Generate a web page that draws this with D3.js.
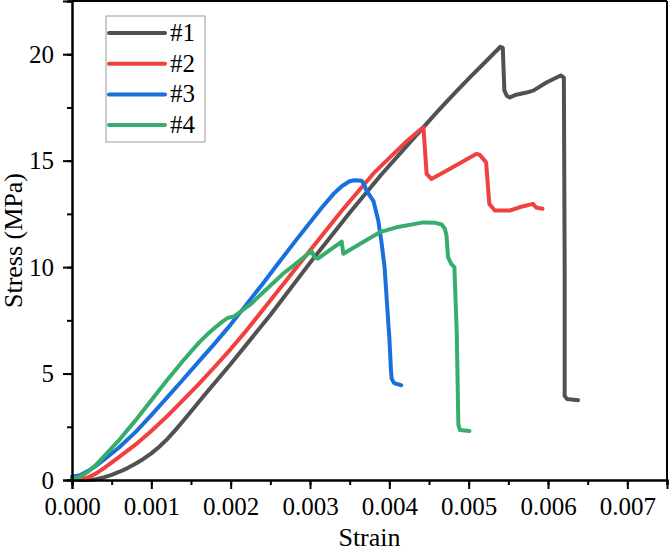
<!DOCTYPE html>
<html><head><meta charset="utf-8">
<script src="https://cdn.jsdelivr.net/npm/d3@7"></script>
<style>body{margin:0;background:#fff}svg{display:block}</style>
</head><body><svg id="chart" width="669" height="551"></svg>
<script>
const seriesNames = ["#1", "#2", "#3", "#4"];
const seriesColors = ["#515151", "#F14040", "#1A6FDF", "#37AD6B"];
const xTicks = [0, 0.001, 0.002, 0.003, 0.004, 0.005, 0.006, 0.007];
const yTicks = [0, 5, 10, 15, 20];
// [strain, stress (MPa)]
const s1 = [[0,0],[0.0002,0.0],[0.0003,0.04],[0.0004,0.12],[0.0005,0.24],[0.0006,0.39],[0.0007,0.56],[0.0008,0.76],[0.0009,0.99],[0.001,1.25],[0.0011,1.56],[0.0012,1.92],[0.0013,2.33],[0.0014,2.77],[0.0015,3.22],[0.00166,3.95],[0.002,5.45],[0.0025,7.75],[0.003,10.2],[0.0035,12.55],[0.0039,14.35],[0.0044,16.45],[0.0046,17.28],[0.0048,18.08],[0.005,18.85],[0.0052,19.6],[0.0054,20.35],[0.00543,20.3],[0.00545,18.3],[0.00548,18.05],[0.00552,17.97],[0.0056,18.1],[0.00573,18.2],[0.00582,18.3],[0.00598,18.67],[0.00616,19.0],[0.0062,18.9],[0.00621,10],[0.00621,3.95],[0.00624,3.8],[0.00638,3.75]];
const s2 = [[0,0],[0.0001,0.02],[0.0002,0.12],[0.0003,0.3],[0.0004,0.55],[0.0006,1.1],[0.0008,1.66],[0.001,2.3],[0.0012,3.0],[0.0014,3.75],[0.0016,4.52],[0.0018,5.32],[0.002,6.15],[0.0022,7.03],[0.0026,8.9],[0.003,10.78],[0.0034,12.65],[0.0038,14.4],[0.0042,15.85],[0.0044,16.49],[0.00443,16.55],[0.00447,14.38],[0.00453,14.14],[0.00472,14.53],[0.0051,15.32],[0.00514,15.27],[0.00522,14.92],[0.00526,12.97],[0.00533,12.66],[0.00552,12.66],[0.00564,12.81],[0.00581,12.97],[0.00585,12.8],[0.00593,12.74]];
const s3 = [[0,0.15],[0.0001,0.22],[0.0002,0.42],[0.0003,0.66],[0.0004,0.94],[0.0006,1.55],[0.0008,2.25],[0.001,3.05],[0.0012,3.88],[0.0014,4.72],[0.0016,5.57],[0.0018,6.42],[0.002,7.3],[0.0022,8.25],[0.0024,9.2],[0.0026,10.18],[0.0028,11.15],[0.003,12.1],[0.00315,12.8],[0.0033,13.45],[0.0034,13.8],[0.0035,14.03],[0.00356,14.08],[0.00365,14.06],[0.00368,13.9],[0.00371,13.6],[0.0038,13.1],[0.00386,12.2],[0.0039,11.2],[0.00394,10.0],[0.00399,7.2],[0.004,6.7],[0.00402,5.2],[0.00403,4.75],[0.00406,4.55],[0.00415,4.45]];
const s4 = [[0,0.05],[0.0001,0.15],[0.0002,0.38],[0.0003,0.7],[0.0004,1.1],[0.0006,1.9],[0.0008,2.8],[0.001,3.75],[0.0012,4.7],[0.0014,5.6],[0.0016,6.45],[0.0017,6.82],[0.0018,7.15],[0.0019,7.45],[0.00196,7.6],[0.002,7.65],[0.00204,7.68],[0.00225,8.25],[0.00266,9.69],[0.00302,10.75],[0.00306,10.45],[0.0031,10.4],[0.0034,11.2],[0.00342,10.63],[0.00388,11.64],[0.00409,11.87],[0.00443,12.1],[0.00458,12.08],[0.00466,12.0],[0.0047,11.8],[0.00472,11.5],[0.00474,10.47],[0.00478,10.15],[0.00482,10.0],[0.00485,6.88],[0.00487,2.6],[0.00489,2.35],[0.00501,2.3]];
const allSeries = [s1, s2, s3, s4];

const svg = d3.select("#chart");
const L = 72, R = 667, T = 1, B = 480;
const x = d3.scaleLinear().domain([0, 0.0075]).range([L, R]);
const y = d3.scaleLinear().domain([0, 22.5]).range([B, T]);
const font = "Liberation Serif, Tinos, Times New Roman, Times, DejaVu Serif, serif";

// frame
svg.append("line").attr("x1", L).attr("x2", R).attr("y1", T).attr("y2", T).attr("stroke", "#000").attr("stroke-width", 2);
svg.append("line").attr("x1", R).attr("x2", R).attr("y1", T).attr("y2", B).attr("stroke", "#000").attr("stroke-width", 2);

// lines
const line = d3.line().x(d => x(d[0])).y(d => y(d[1]));
allSeries.forEach((s, i) => {
  svg.append("path").datum(s).attr("d", line).attr("fill", "none")
    .attr("stroke", seriesColors[i]).attr("stroke-width", 4)
    .attr("stroke-linejoin", "round").attr("stroke-linecap", "round");
});

// axes
const xMinor = d3.range(0, 0.00751, 0.0005);
const yMinor = d3.range(0, 22.51, 2.5);
const gx = svg.append("g").attr("transform", `translate(0,${B})`);
gx.call(d3.axisBottom(x).tickValues(xMinor).tickSize(5).tickFormat(""));
gx.selectAll(".tick line").attr("stroke-width", 2);
const gx2 = svg.append("g").attr("transform", `translate(0,${B})`);
gx2.call(d3.axisBottom(x).tickValues(xTicks).tickSize(9).tickPadding(8).tickFormat(d3.format(".3f")));
gx2.selectAll(".tick line").attr("stroke-width", 2);
gx2.selectAll(".tick text").style("font-family", font).style("font-size", "25px").attr("fill", "#000");
[gx, gx2].forEach(g => g.select(".domain").attr("stroke-width", 2));

const gy = svg.append("g").attr("transform", `translate(${L},0)`);
gy.call(d3.axisLeft(y).tickValues(yMinor).tickSize(5).tickFormat(""));
gy.selectAll(".tick line").attr("stroke-width", 2);
const gy2 = svg.append("g").attr("transform", `translate(${L},0)`);
gy2.call(d3.axisLeft(y).tickValues(yTicks).tickSize(9).tickPadding(9));
gy2.selectAll(".tick line").attr("stroke-width", 2);
gy2.selectAll(".tick text").style("font-family", font).style("font-size", "25px").attr("fill", "#000");
[gy, gy2].forEach(g => g.select(".domain").attr("stroke-width", 2));

// titles
svg.append("text").attr("x", (L + R) / 2).attr("y", 546).attr("text-anchor", "middle")
  .style("font-family", font).style("font-size", "26px").text("Strain");
svg.append("text").attr("transform", `translate(22,${(T + B) / 2}) rotate(-90)`).attr("text-anchor", "middle")
  .style("font-family", font).style("font-size", "26px").text("Stress (MPa)");

// legend
const lg = svg.append("g");
lg.append("rect").attr("x", 106).attr("y", 16).attr("width", 99).attr("height", 126)
  .attr("fill", "#fff").attr("stroke", "#9a9a9a").attr("stroke-width", 1);
seriesNames.forEach((n, i) => {
  const yy = 33 + i * 30.7;
  lg.append("line").attr("x1", 109).attr("x2", 165).attr("y1", yy).attr("y2", yy)
    .attr("stroke", seriesColors[i]).attr("stroke-width", 4).attr("stroke-linecap", "round");
  lg.append("text").attr("x", 170).attr("y", yy + 8).style("font-family", font).style("font-size", "25px").text(n);
});
</script></body></html>
